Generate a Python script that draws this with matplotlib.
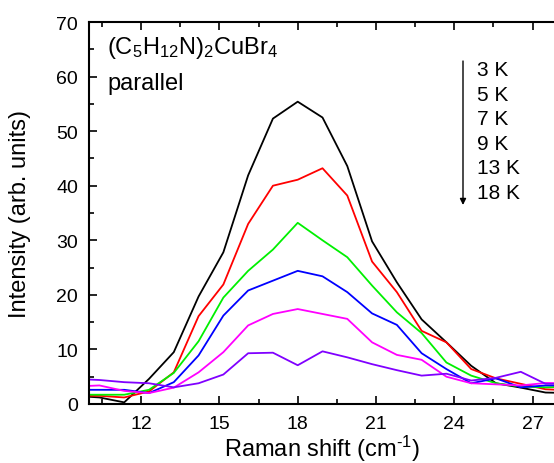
import numpy as np
import matplotlib
matplotlib.use("Agg")
import matplotlib.pyplot as plt
from matplotlib.ticker import MultipleLocator

plt.rcParams['font.family'] = ['Liberation Sans', 'DejaVu Sans']
plt.rcParams['mathtext.fontset'] = 'custom'
plt.rcParams['mathtext.rm'] = 'Liberation Sans'
plt.rcParams['mathtext.it'] = 'Liberation Sans'

# Raman shift (cm^-1)
shift = [9.45, 10.40, 11.35, 12.30, 13.25, 14.20, 15.15, 16.10, 17.05, 18.00, 18.95,
         19.90, 20.85, 21.80, 22.75, 23.70, 24.65, 25.60, 26.55, 27.50, 28.45]

temps = ["3 K", "5 K", "7 K", "9 K", "13 K", "18 K"]

i_3K = [1.5, 1.2, 0.3, 4.6, 9.5, 19.7, 27.8, 41.9, 52.3, 55.4, 52.5,
        43.6, 29.8, 22.3, 15.5, 11.3, 7.0, 3.8, 3.0, 2.1, 2.0]
i_5K = [1.5, 1.5, 1.2, 2.3, 5.8, 16.1, 21.9, 33.0, 40.0, 41.1, 43.2,
        38.2, 26.1, 20.5, 13.4, 11.3, 6.4, 4.7, 3.7, 2.7, 2.5]
i_7K = [1.7, 1.7, 1.7, 2.6, 5.7, 11.5, 19.5, 24.4, 28.3, 33.2, 30.0,
        26.9, 21.7, 16.8, 13.0, 7.6, 5.2, 3.8, 3.2, 3.05, 3.2]
i_9K = [2.6, 2.6, 2.6, 2.0, 4.0, 8.9, 16.2, 20.8, 22.6, 24.4, 23.4,
        20.5, 16.6, 14.5, 9.3, 6.4, 3.8, 4.7, 3.05, 3.4, 3.4]
i_13K = [3.2, 3.4, 2.4, 2.0, 3.0, 5.8, 9.5, 14.4, 16.5, 17.4, 16.5,
         15.6, 11.3, 9.0, 8.1, 5.0, 3.8, 3.6, 3.4, 3.85, 3.8]
i_18K = [4.6, 4.4, 4.0, 3.8, 3.05, 3.8, 5.4, 9.3, 9.4, 7.1, 9.65,
         8.55, 7.3, 6.2, 5.2, 5.55, 4.3, 4.8, 5.9, 3.7, 3.7]

series = [i_3K, i_5K, i_7K, i_9K, i_13K, i_18K]
colors = ["#000000", "#ff0000", "#00f000", "#0000ff", "#ff00ff", "#8000ff"]

fig = plt.figure(figsize=(5.54, 4.64), dpi=100)
ax = fig.add_axes([89/554, 59/464, 467/554, 382/464])

for y, c in zip(series, colors):
    ax.plot(shift, y, color=c, lw=1.3)

ax.set_xlim(10, 27.9)
ax.set_ylim(0, 70)
ax.xaxis.set_major_locator(MultipleLocator(3))
ax.xaxis.set_minor_locator(MultipleLocator(1.5))
ax.yaxis.set_major_locator(MultipleLocator(10))
ax.yaxis.set_minor_locator(MultipleLocator(5))
ax.set_xticks([12, 15, 18, 21, 24, 27])

for s in ax.spines.values():
    s.set_linewidth(1.5)
ax.spines['right'].set_visible(False)

ax.tick_params(which='both', direction='in', width=1.2, labelsize=14, top=True)
ax.tick_params(which='major', length=6)
ax.tick_params(which='minor', length=3.5)
ax.tick_params(axis='x', pad=8)
ax.tick_params(axis='y', pad=8)
ax.tick_params(axis='x', which='both', labeltop=False)

ax.set_xlabel(r"Raman shift (cm$^{\text{-}1}$)", fontsize=17)
ax.set_ylabel("Intensity (arb. units)", fontsize=17)
ax.yaxis.set_label_coords(-0.125, 0.5)
ax.xaxis.set_label_coords(0.5, -0.075)

fig.text(107/554, 1 - 54/464, "(C$_5$H$_{12}$N)$_2$CuBr$_4$", fontsize=17, va='baseline')
fig.text(107/554, 1 - 90/464, "parallel", fontsize=17, va='baseline')

for k, t in enumerate(temps):
    fig.text(477/554, 1 - (71 + 24.5*k)/464, t, fontsize=15, va='center')

ax.annotate("", xy=(463/554, 1 - 206/464), xytext=(463/554, 1 - 62/464),
            xycoords='figure fraction', textcoords='figure fraction',
            arrowprops=dict(arrowstyle='-|>', color='black', lw=1.0,
                            mutation_scale=9, shrinkA=0, shrinkB=0))

fig.savefig("out.png", dpi=100)
